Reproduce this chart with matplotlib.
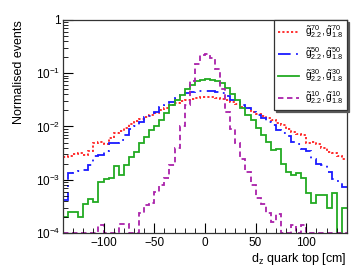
import numpy as np
import matplotlib
matplotlib.use('Agg')
import matplotlib.pyplot as plt
from matplotlib.ticker import LogLocator, MultipleLocator, FuncFormatter, NullFormatter

plt.rcParams['font.family'] = ['Liberation Sans', 'DejaVu Sans']
plt.rcParams['mathtext.fontset'] = 'custom'
plt.rcParams['mathtext.rm'] = 'Liberation Sans'
plt.rcParams['mathtext.it'] = 'Liberation Sans:italic'
plt.rcParams['mathtext.bf'] = 'Liberation Sans:bold'

# binning of d_z [cm]
bin_edges = np.linspace(-140, 140, 57)

# normalised events per bin
g70 = [2.7e-3, 2.8e-3, 3.0e-3, 3.2e-3, 2.95e-3, 3.5e-3, 4.8e-3, 5.2e-3, 4.7e-3, 6.0e-3,
       7.6e-3, 8.3e-3, 9.5e-3, 1.12e-2, 1.26e-2, 1.38e-2, 1.51e-2, 1.66e-2, 1.82e-2, 2.0e-2,
       2.24e-2, 2.5e-2, 2.8e-2, 3.0e-2, 3.16e-2, 3.3e-2, 3.47e-2, 3.55e-2, 3.63e-2, 3.55e-2,
       3.47e-2, 3.3e-2, 3.16e-2, 2.9e-2, 2.6e-2, 2.34e-2, 2.2e-2, 1.9e-2, 1.74e-2, 1.58e-2,
       1.45e-2, 1.32e-2, 1.17e-2, 1.07e-2, 8.9e-3, 7.9e-3, 7.1e-3, 6.8e-3, 5.0e-3, 5.2e-3,
       4.6e-3, 4.0e-3, 3.3e-3, 3.2e-3, 2.75e-3, 2.45e-3]
g50 = [4.2e-4, 1.32e-3, 1.38e-3, 1.45e-3, 1.51e-3, 1.9e-3, 2.8e-3, 2.9e-3, 3.5e-3, 4.8e-3,
       4.9e-3, 5.6e-3, 6.9e-3, 8.9e-3, 1.0e-2, 1.2e-2, 1.48e-2, 1.58e-2, 1.9e-2, 2.34e-2,
       2.5e-2, 2.9e-2, 3.4e-2, 3.9e-2, 4.2e-2, 4.5e-2, 4.6e-2, 4.7e-2, 4.7e-2, 4.7e-2,
       4.5e-2, 4.2e-2, 3.7e-2, 3.2e-2, 2.9e-2, 2.5e-2, 2.2e-2, 1.9e-2, 1.66e-2, 1.45e-2,
       1.23e-2, 1.05e-2, 8.7e-3, 7.6e-3, 6.5e-3, 5.1e-3, 4.7e-3, 3.8e-3, 3.5e-3, 2.5e-3,
       2.0e-3, 1.9e-3, 1.4e-3, 1.05e-3, 9.5e-4, 7.4e-4]
g30 = [2.0e-4, 2.5e-4, 2.5e-4, 2.0e-4, 3.5e-4, 4.4e-4, 3.8e-4, 8.9e-4, 1.02e-3, 1.1e-3,
       1.8e-3, 1.23e-3, 1.9e-3, 2.7e-3, 3.3e-3, 4.9e-3, 6.3e-3, 8.7e-3, 1.02e-2, 1.32e-2,
       1.78e-2, 2.5e-2, 3.2e-2, 3.9e-2, 5.0e-2, 6.0e-2, 7.1e-2, 7.6e-2, 7.8e-2, 7.6e-2,
       7.1e-2, 6.5e-2, 5.2e-2, 4.0e-2, 3.2e-2, 2.2e-2, 1.66e-2, 1.32e-2, 9.3e-3, 6.9e-3,
       5.1e-3, 3.6e-3, 3.8e-3, 2.0e-3, 1.38e-3, 1.23e-3, 1.32e-3, 1.07e-3, 5.6e-4, 3.6e-4,
       5.1e-4, 5.1e-4, 3.0e-4, 5.6e-4, 0.0, 3.0e-4]
g10 = [0.0, 0.0, 0.0, 0.0, 0.0, 0.0, 0.0, 1.4e-4, 0.0, 0.0,
       0.0, 1.5e-4, 1.5e-4, 0.0, 0.0, 2.4e-4, 3.4e-4, 3.6e-4, 5.9e-4, 7.9e-4,
       1.07e-3, 1.9e-3, 3.9e-3, 1.0e-2, 2.5e-2, 7.1e-2, 0.151, 0.219, 0.234, 0.19,
       0.12, 0.05, 1.9e-2, 8.9e-3, 5.0e-3, 2.5e-3, 1.41e-3, 7.9e-4, 4.5e-4, 3.5e-4,
       2.4e-4, 1.6e-4, 2.3e-4, 0.0, 0.0, 1.4e-4, 0.0, 1.4e-4, 0.0, 0.0,
       0.0, 0.0, 0.0, 0.0, 0.0, 0.0]

labels = [r'$\tilde{\mathrm{g}}^{70}_{2.2}, \tilde{\mathrm{g}}^{70}_{1.8}$',
          r'$\tilde{\mathrm{g}}^{50}_{2.2}, \tilde{\mathrm{g}}^{50}_{1.8}$',
          r'$\tilde{\mathrm{g}}^{30}_{2.2}, \tilde{\mathrm{g}}^{30}_{1.8}$',
          r'$\tilde{\mathrm{g}}^{10}_{2.2}, \tilde{\mathrm{g}}^{10}_{1.8}$']
series = [g70, g50, g30, g10]
colors = ['#ff2020', '#1a1aff', '#22aa22', '#aa22aa']
styles = [(0, (1.2, 1.2)), (0, (7, 3, 1, 3)), '-', (0, (3, 2))]

ymin, ymax = 1e-4, 1.0

fig = plt.figure(figsize=(3.55, 2.66), dpi=100)
ax = fig.add_axes([0.1775, 0.124, 0.7995, 0.801])

for vals, lab, c, ls in zip(series, labels, colors, styles):
    v = np.clip(np.array(vals), ymin, None)
    ax.stairs(v, bin_edges, color=c, linestyle=ls, linewidth=1.3, label=lab, baseline=None)

ax.set_yscale('log')
ax.set_xlim(-140, 140)
ax.set_ylim(ymin, ymax)

def yfmt(v, pos):
    e = int(round(np.log10(v)))
    if e == 0:
        return '1'
    return r'$10^{%d}$' % e

ax.yaxis.set_major_locator(LogLocator(base=10, numticks=10))
ax.yaxis.set_minor_locator(LogLocator(base=10, subs=np.arange(2, 10), numticks=20))
ax.yaxis.set_major_formatter(FuncFormatter(yfmt))
ax.yaxis.set_minor_formatter(NullFormatter())
ax.xaxis.set_major_locator(MultipleLocator(50))
ax.xaxis.set_minor_locator(MultipleLocator(10))

ax.tick_params(which='both', direction='in', top=False, right=False, labelsize=8.5)
ax.tick_params(axis='x', which='major', length=7, pad=3)
ax.tick_params(axis='x', which='minor', length=3.5)
ax.tick_params(axis='y', which='major', length=7, pad=2)
ax.tick_params(axis='y', which='minor', length=3.5)
for s in ax.spines.values():
    s.set_linewidth(0.9)
    s.set_color('#333333')

ax.set_ylabel('Normalised events', fontsize=9, loc='top')
ax.yaxis.set_label_coords(-0.135, 1.0)
ax.set_xlabel(r'd$_{\mathrm{z}}$ quark top [cm]', fontsize=9, loc='right', labelpad=1)

leg = ax.legend(loc='upper left', bbox_to_anchor=(0.743, 0.58, 0.257, 0.42), mode='expand',
                fontsize=7.5, frameon=True, fancybox=False, borderaxespad=0,
                handlelength=2.1, handletextpad=0.5, labelspacing=0.5, borderpad=0.35,
                shadow={'ox': 1.2, 'oy': -1.2, 'color': '0.35', 'alpha': 1.0})
leg.get_frame().set_edgecolor('#333333')
leg.get_frame().set_linewidth(0.9)

fig.savefig('out.png', dpi=100)
